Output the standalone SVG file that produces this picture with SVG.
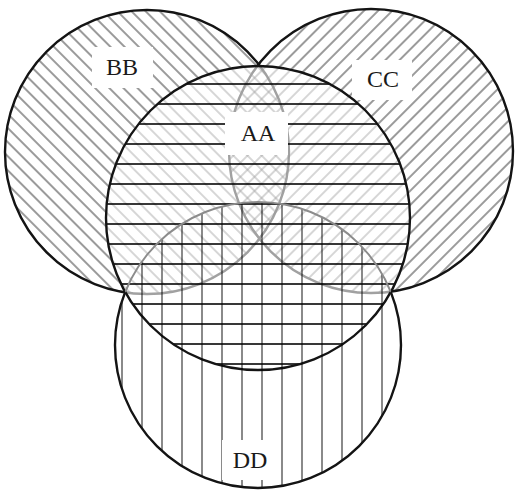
<svg xmlns="http://www.w3.org/2000/svg" width="515" height="490" viewBox="0 0 515 490">
<style>
.outline{fill:none;stroke:#141414;stroke-width:2.4}
.faded{fill:none;stroke:#8c8c8c;stroke-width:2}
.lbl{font-family:"Liberation Serif","Times New Roman",serif;font-size:24px;fill:#1a1a1a;text-anchor:middle}
.box{fill:#ffffff}
.mul{mix-blend-mode:multiply}
</style>
<defs>
<pattern id="diagBB" patternUnits="userSpaceOnUse" width="10" height="10" patternTransform="rotate(45)">
<line x1="-1" y1="5" x2="11" y2="5" stroke="#909090" stroke-width="1.8"/>
</pattern>
<pattern id="diagCC" patternUnits="userSpaceOnUse" width="10" height="10" patternTransform="rotate(-45)">
<line x1="-1" y1="5" x2="11" y2="5" stroke="#909090" stroke-width="1.8"/>
</pattern>
<pattern id="horiz" patternUnits="userSpaceOnUse" width="20" height="20">
<line x1="-1" y1="4" x2="21" y2="4" stroke="#383838" stroke-width="2"/>
</pattern>
<pattern id="vert" patternUnits="userSpaceOnUse" width="20" height="20">
<line x1="2" y1="-1" x2="2" y2="21" stroke="#8a8a8a" stroke-width="2"/>
</pattern>
<clipPath id="inAA"><circle cx="258" cy="218" r="152"/></clipPath>
<clipPath id="outAA"><path clip-rule="evenodd" d="M0,0H515V490H0Z M106,218a152,152 0 1,0 304,0a152,152 0 1,0 -304,0Z"/></clipPath>
</defs>

<g id="BB">
<circle cx="147" cy="152" r="142" fill="url(#diagBB)" class="mul"/>
<circle cx="147" cy="152" r="142" class="outline"/>
<rect class="box" x="92" y="47" width="61" height="41"/>
<text class="lbl" x="122" y="75">BB</text>
</g>

<g id="CC">
<circle cx="371" cy="151" r="142" fill="url(#diagCC)" class="mul"/>
<circle cx="371" cy="151" r="142" class="outline"/>
<rect class="box" x="352" y="60" width="60" height="40"/>
<text class="lbl" x="383" y="87">CC</text>
</g>

<g id="AA">
<circle cx="258" cy="218" r="152" fill="#ffffff" fill-opacity="0.6"/>
<circle cx="258" cy="218" r="152" fill="url(#horiz)" class="mul"/>
<circle cx="258" cy="218" r="152" class="outline"/>
<rect class="box" x="225" y="112" width="63" height="43"/>
<text class="lbl" x="258" y="141">AA</text>
</g>

<g id="DD">
<circle cx="258" cy="345" r="143" fill="url(#vert)" class="mul"/>
<circle cx="258" cy="345" r="143" class="faded" clip-path="url(#inAA)"/>
<circle cx="258" cy="345" r="143" class="outline" clip-path="url(#outAA)"/>
<rect class="box" x="222" y="440" width="58" height="40"/>
<text class="lbl" x="250" y="468">DD</text>
</g>

<g id="connectors"/>
</svg>
